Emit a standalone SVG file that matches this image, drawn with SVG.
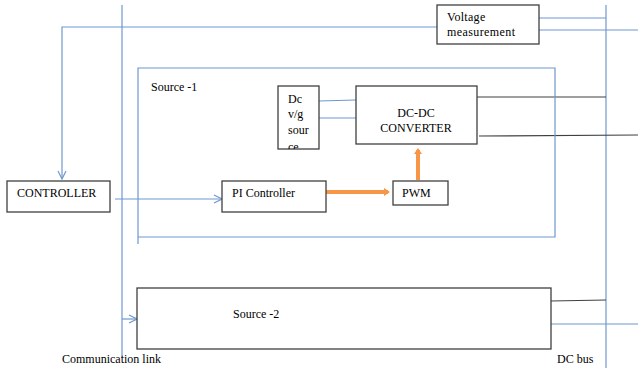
<svg xmlns="http://www.w3.org/2000/svg" width="638" height="368" viewBox="0 0 638 368">
<style>
.box{fill:#fff;stroke:#404040;stroke-width:1.3}
.blue{fill:none;stroke:#6f98cf;stroke-width:1.2}
.dark{fill:none;stroke:#404040;stroke-width:1.2}
.org{fill:none;stroke:#f79646;stroke-width:4}
text{font-family:"Liberation Serif","Times New Roman",serif;font-size:12px;fill:#000}
</style>
<defs>
<marker id="chev" markerWidth="10" markerHeight="10" refX="9" refY="5" orient="auto" markerUnits="userSpaceOnUse">
<path d="M1,1 L9,5 L1,9" fill="none" stroke="#6f98cf" stroke-width="1.2"/>
</marker>
<marker id="oarr" markerWidth="10" markerHeight="10" refX="4" refY="5" orient="auto" markerUnits="userSpaceOnUse">
<path d="M0,1 L6,5 L0,9 Z" fill="#f79646"/>
</marker>
<clipPath id="dcclip"><rect x="278" y="86" width="41" height="63"/></clipPath>
</defs>
<g id="connectors">
<line class="blue" x1="122" y1="5" x2="122" y2="358"/>
<line class="blue" x1="606" y1="5" x2="606" y2="368"/>
<polyline class="blue" points="437,27 62,27 62,179" marker-end="url(#chev)"/>
<line class="blue" x1="539" y1="18" x2="606" y2="18"/>
<line class="blue" x1="539" y1="30" x2="638" y2="30"/>
<line class="blue" x1="115" y1="199" x2="222" y2="199" marker-end="url(#chev)"/>
<line class="blue" x1="122" y1="319" x2="137" y2="319" marker-end="url(#chev)"/>
<line class="blue" x1="319" y1="101" x2="356" y2="100"/>
<line class="blue" x1="319" y1="118" x2="356" y2="118"/>
<line class="dark" x1="477" y1="97" x2="606" y2="97"/>
<line class="dark" x1="479" y1="136" x2="638" y2="135"/>
<line class="dark" x1="551" y1="301" x2="606" y2="300"/>
<line class="blue" x1="551" y1="324" x2="638" y2="324"/>
<line class="org" x1="326" y1="192" x2="388" y2="192" marker-end="url(#oarr)"/>
<line class="org" x1="418" y1="180" x2="418" y2="150" marker-end="url(#oarr)"/>
</g>
<g id="source1">
<polyline class="blue" points="138,244 138,68 555,68 555,237 138,237"/>
<text x="151" y="91">Source -1</text>
</g>
<g id="voltage-measurement">
<rect class="box" x="437" y="5" width="102" height="39"/>
<text x="447" y="21" letter-spacing="0.3">Voltage</text>
<text x="447" y="36" letter-spacing="0.4">measurement</text>
</g>
<g id="dc-source">
<rect class="box" x="278" y="86" width="41" height="63"/>
<g clip-path="url(#dcclip)">
<text x="288" y="103">Dc</text>
<text x="288" y="118">v/g</text>
<text x="288" y="134">sour</text>
<text x="288" y="151">ce</text>
</g>
</g>
<g id="dc-dc-converter">
<rect class="box" x="356" y="86" width="121" height="58"/>
<text x="416" y="117" text-anchor="middle">DC-DC</text>
<text x="416" y="132" text-anchor="middle">CONVERTER</text>
</g>
<g id="controller">
<rect class="box" x="7" y="181" width="103" height="31"/>
<text x="17" y="197">CONTROLLER</text>
</g>
<g id="pi-controller">
<rect class="box" x="222" y="181" width="104" height="31"/>
<text x="232" y="197">PI Controller</text>
</g>
<g id="pwm">
<rect class="box" x="393" y="181" width="55" height="24"/>
<text x="402" y="197">PWM</text>
</g>
<g id="source2">
<rect class="box" x="137" y="288" width="414" height="61"/>
<text x="233" y="318">Source -2</text>
</g>
<text x="62" y="363">Communication link</text>
<text x="557" y="363">DC bus</text>
</svg>
